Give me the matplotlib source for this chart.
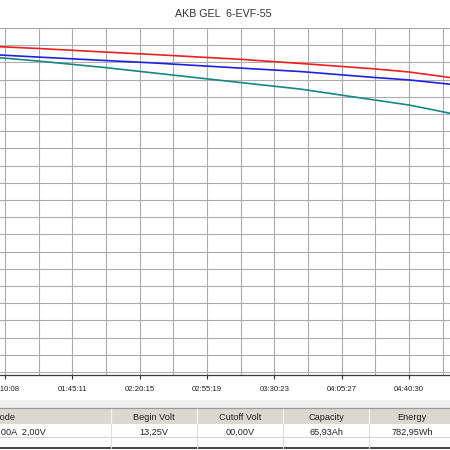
import numpy as np
import matplotlib
matplotlib.use('Agg')
from matplotlib import pyplot as plt
from matplotlib.patches import Rectangle

plt.rcParams['font.family'] = ['Liberation Sans', 'DejaVu Sans']

# time in seconds since start, voltage in volts
time_s = [3427, 4052, 5240, 7334, 8741, 11554, 13430, 15774, 16837, 18119, 18432]
volt_red = [12.897, 12.891, 12.881, 12.860, 12.847, 12.818, 12.794, 12.762, 12.744, 12.712, 12.703]
volt_blue = [12.849, 12.843, 12.831, 12.811, 12.798, 12.767, 12.747, 12.712, 12.698, 12.673, 12.666]
volt_teal = [12.837, 12.827, 12.808, 12.770, 12.741, 12.683, 12.645, 12.581, 12.552, 12.504, 12.491]

tick_times = [4208, 6311, 8415, 10519, 12623, 14727, 16830]
tick_labels = ['01:10:08', '01:45:11', '02:20:15', '02:55:19', '03:30:23', '04:05:27', '04:40:30']

title = 'AKB GEL  6-EVF-55'
table_header = ['Mode', 'Begin Volt', 'Cutoff Volt', 'Capacity', 'Energy']
table_row = ['CC 11,00A  2,00V', '13,25V', '00,00V', '65,93Ah', '782,95Wh']

W = H = 450.0
fig = plt.figure(figsize=(4.5, 4.5), dpi=100)
fig.patch.set_facecolor('white')

def px_box(x0, y0, x1, y1):
    # pixel box (top-left origin) -> figure fraction rect
    return [x0 / W, 1 - y1 / H, (x1 - x0) / W, (y1 - y0) / H]

ax = fig.add_axes(px_box(-20, 28, 460, 375))
ax.plot(time_s, volt_red, color='#ee2020', lw=1.2, zorder=3)
ax.plot(time_s, volt_blue, color='#2020e0', lw=1.2, zorder=3)
ax.plot(time_s, volt_teal, color='#16887e', lw=1.2, zorder=3)

step = tick_times[1] - tick_times[0]
sec_per_px = (tick_times[-1] - tick_times[0]) / (409 - 5.0)

ax.set_xticks(tick_times)
ax.set_xticklabels(tick_labels, fontsize=5.6, color='#222222')
minor = [t + step / 2.0 for t in [tick_times[0] - step] + tick_times]
ax.set_xticks(minor, minor=True)
ax.set_yticks(np.arange(11.0, 13.01, 0.1))
# limits after the ticks, set_xticks would widen them
ax.set_xlim(tick_times[0] - 25 * sec_per_px, tick_times[0] + 455 * sec_per_px)
ax.set_ylim(11.0 - 3 * 0.1 / 17.2, 13.0)
ax.tick_params(axis='y', left=False, labelleft=False)
ax.tick_params(axis='x', which='major', length=3.2, width=0.8, color='#333333', pad=5)
ax.tick_params(axis='x', which='minor', length=0)
ax.grid(True, which='both', color='#ababab', lw=0.8)
ax.set_axisbelow(True)
for side in ['top', 'right', 'left']:
    ax.spines[side].set_color('#ababab')
    ax.spines[side].set_linewidth(0.8)
ax.spines['bottom'].set_color('#3a3a3a')
ax.spines['bottom'].set_linewidth(0.9)

fig.text(223 / W, 1 - 14 / H, title, ha='center', va='center', fontsize=7.7, color='#333333')

# summary table below the chart, drawn in pixel coordinates
tb = fig.add_axes(px_box(0, 398, 450, 450))
tb.set_xlim(0, 450)
tb.set_ylim(450, 398)
tb.axis('off')
tb.add_patch(Rectangle((0, 400), 450, 8, color='#f0f0f0', lw=0))
tb.add_patch(Rectangle((0, 408), 450, 16, color='#dbd8d2', lw=0))
tb.plot([0, 450], [408, 408], color='#9a9a9a', lw=0.9)
tb.plot([0, 450], [437.5, 437.5], color='#d4d4d4', lw=0.8)
tb.plot([0, 450], [448.5, 448.5], color='#444444', lw=1.4)
col_edges = [111, 197, 283, 369]
for x in col_edges:
    tb.plot([x, x], [409, 424], color='#f4f4f4', lw=0.9)
    tb.plot([x, x], [424, 448], color='#dcdcdc', lw=0.8)
centers = [0, 154, 240, 326, 412]
for i, (hd, val) in enumerate(zip(table_header, table_row)):
    if i == 0:
        tb.text(-7.5, 418, hd, ha='left', va='center', fontsize=6.6, color='#222222')
        tb.text(46, 432, val, ha='right', va='center', fontsize=6.6, color='#222222')
    else:
        tb.text(centers[i], 418, hd, ha='center', va='center', fontsize=6.6, color='#222222')
        tb.text(centers[i], 432, val, ha='center', va='center', fontsize=6.6, color='#222222')

plt.savefig('out.png', dpi=100)
